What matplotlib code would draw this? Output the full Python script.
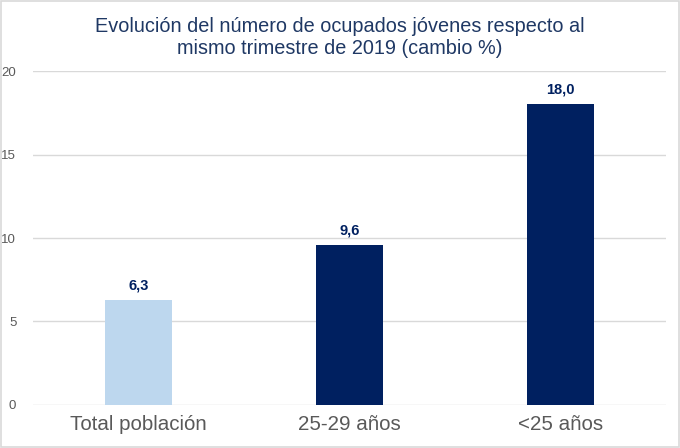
import matplotlib
matplotlib.use('agg')
import matplotlib.pyplot as plt
from matplotlib.patches import Rectangle

plt.rcParams['font.family'] = ['Liberation Sans', 'DejaVu Sans']

categories = ['Total población', '25-29 años', '<25 años']
values = [6.3, 9.6, 18.0]
bar_colors = ['#BDD7EE', '#002060', '#002060']
yticks = [0, 5, 10, 15, 20]

fig = plt.figure(figsize=(6.8, 4.48), dpi=100)
ax = fig.add_axes([0.0485, 0.096, 0.9305, 0.7455])

x = range(len(categories))
bars = ax.bar(x, values, width=0.32, color=bar_colors, zorder=3)
for b, v in zip(bars, values):
    ax.text(b.get_x() + b.get_width() / 2, v + 0.45, f'{v:.1f}'.replace('.', ','),
            ha='center', va='bottom', fontsize=10.5, fontweight='bold', color='#002060')

ax.set_xlim(-0.5, 2.5)
ax.set_ylim(0, 20)
ax.set_yticks(yticks)
ax.set_xticks(list(x))
ax.set_xticklabels(categories, fontsize=14.8, color='#595959')
ax.tick_params(axis='y', labelsize=9.5, colors='#595959', length=0, pad=12)
ax.tick_params(axis='x', length=0, pad=7)
ax.grid(axis='y', color='#D9D9D9', linewidth=1, zorder=0)
for s in ax.spines.values():
    s.set_visible(False)

fig.text(0.5, 0.963, 'Evolución del número de ocupados jóvenes respecto al\nmismo trimestre de 2019 (cambio %)',
         ha='center', va='top', fontsize=14.3, color='#1F3864', linespacing=1.25)

fig.patches.append(Rectangle((0.002, 0.003), 0.996, 0.994, transform=fig.transFigure,
                             fill=False, edgecolor='#D9D9D9', linewidth=1.2))

fig.savefig('out.png', dpi=100)
